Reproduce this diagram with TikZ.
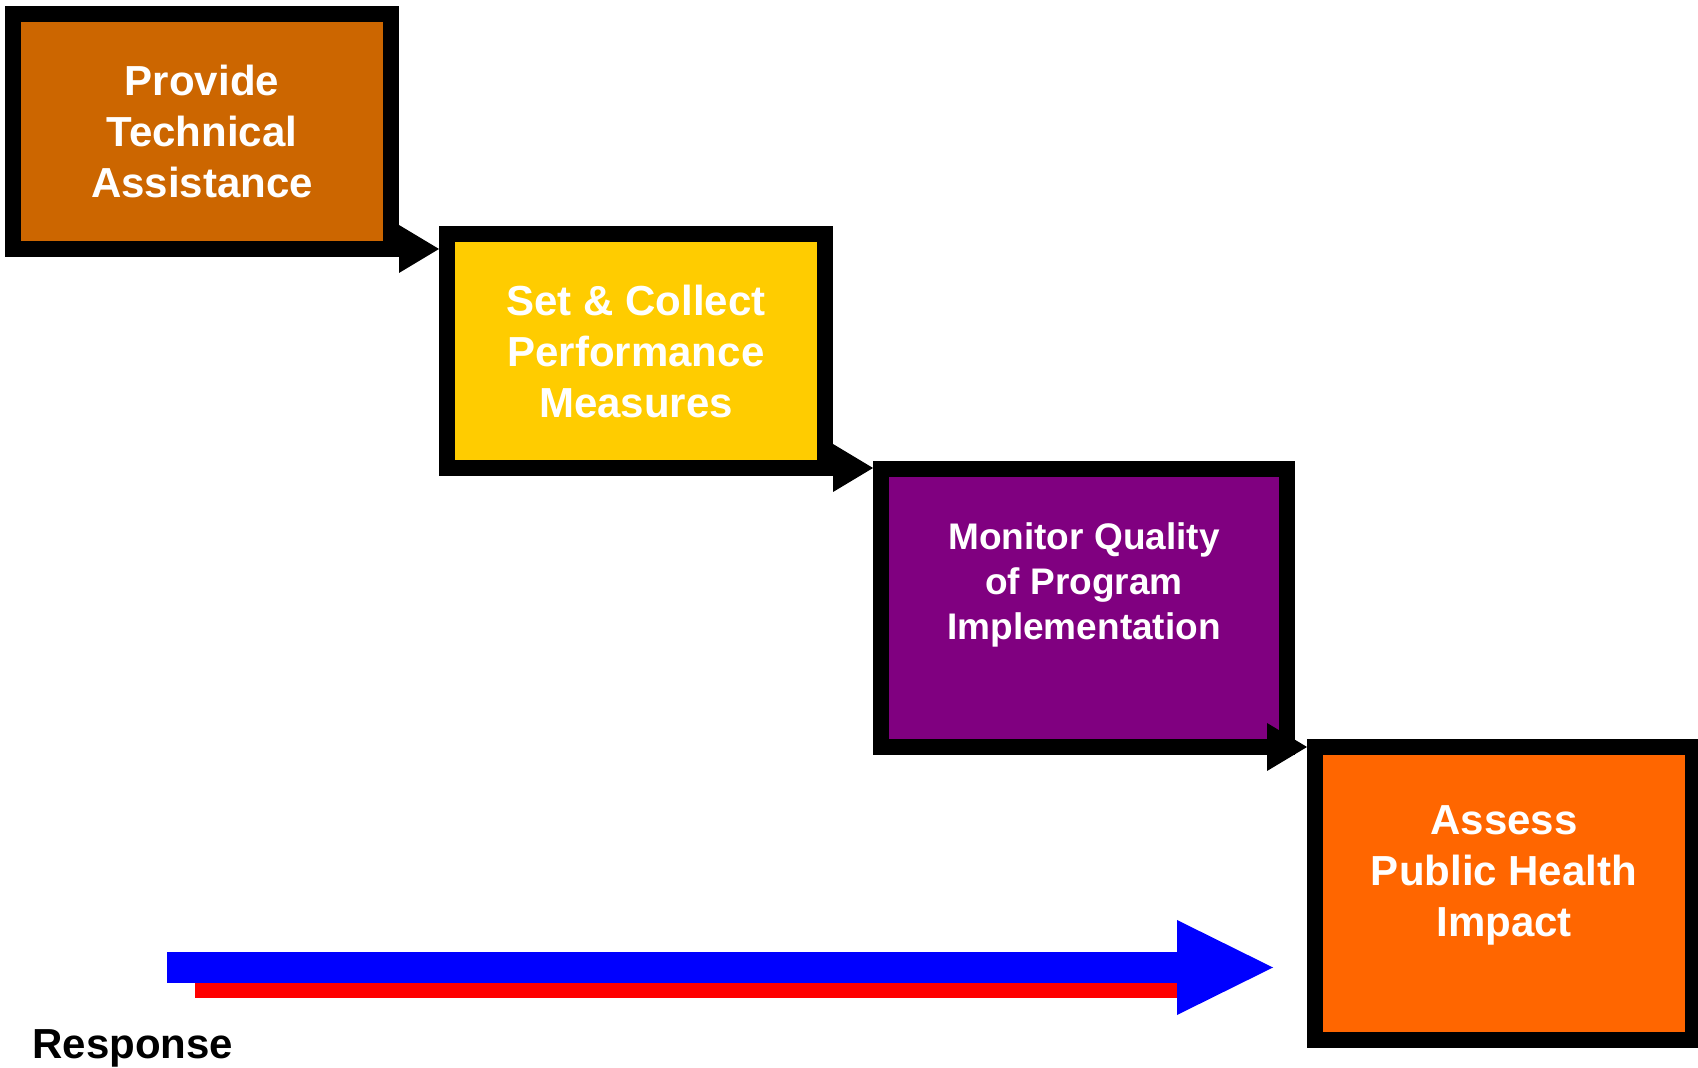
\documentclass[tikz,border=0pt]{standalone}
\usepackage{fontspec}
\setmainfont{Liberation Sans}
\usetikzlibrary{arrows.meta}

\definecolor{rust}{HTML}{CC6600}
\definecolor{gold}{HTML}{FFCC00}
\definecolor{plum}{HTML}{800080}
\definecolor{tangerine}{HTML}{FF6600}

\begin{document}
\begin{tikzpicture}[x=0.5pt, y=-0.5pt,
  stepbox/.style={rectangle, draw=black, line width=8pt, outer sep=4pt, inner sep=0pt},
  steptext/.style={text=white, align=center, inner sep=0pt, font=\bfseries\fontsize{21}{25.5}\selectfont},
  flow/.style={line width=8pt, -{Triangle[length=20pt, width=24pt, line width=0pt]}}]
\useasboundingbox (0,0) rectangle (1698,1068);

% the four steps
\node[stepbox, fill=rust, minimum width=189pt, minimum height=117.5pt] (b1) at (202,131.5) {};
\node[stepbox, fill=gold, minimum width=189pt, minimum height=117pt] (b2) at (636,351) {};
\node[stepbox, fill=plum, minimum width=203pt, minimum height=139pt] (b3) at (1084,608) {};
\node[stepbox, fill=tangerine, minimum width=189pt, minimum height=146.5pt] (b4) at (1504,893.5) {};

\node[steptext] (t1) at (b1) {Provide\\Technical\\Assistance};
\node[steptext] (t2) at (b2) {Set \& Collect\\Performance\\Measures};
\node[steptext, font=\bfseries\fontsize{18.5}{22.5}\selectfont] (t3) at ([yshift=11.5pt]b3.center) {Monitor Quality\\of Program\\Implementation};
\node[steptext] (t4) at ([yshift=9pt]b4.center) {Assess\\Public Health\\Impact};

% arrows between the steps
\coordinate (a1) at (293,249);
\coordinate (a2) at (727,468);
\coordinate (a3) at (1162,747);
\draw[flow] (a1) -- (a1 -| b2.west);
\draw[flow] (a2) -- (a2 -| b3.west);
\draw[flow] (a3) -- (a3 -| b4.west);

% response arrow
\coordinate (r1) at (195,990.5);
\coordinate (r2) at (1177,990.5);
\coordinate (s1) at (167,967.5);
\coordinate (s2) at (1273,967.5);
\draw[red, line width=7.5pt] (r1) -- (r2);
\draw[blue, line width=15.5pt, -{Triangle[length=48pt, width=47.5pt, line width=0pt]}] (s1) -- (s2);

\node[anchor=base west, inner sep=0pt, font=\bfseries\fontsize{21}{25.5}\selectfont] (resp) at (32,1058) {Response};

\end{tikzpicture}
\end{document}
